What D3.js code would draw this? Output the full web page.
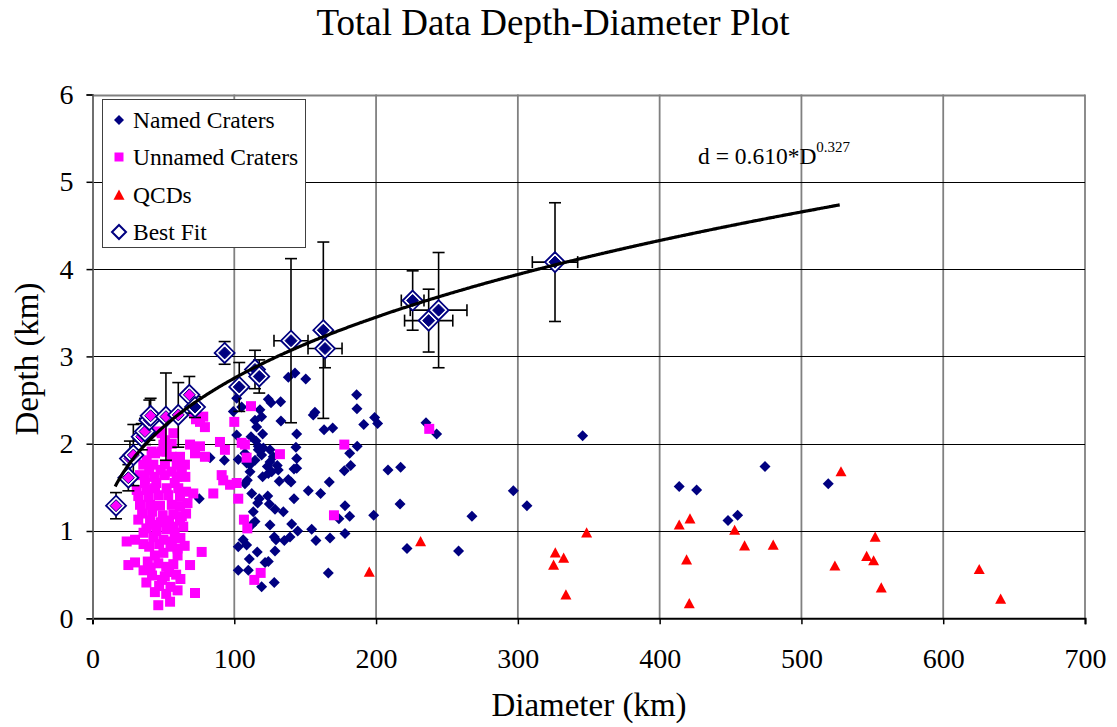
<!DOCTYPE html>
<html>
<head>
<meta charset="utf-8">
<script type="text/javascript" src="https://d3js.org/d3.v7.min.js"></script>
<style>
  body { margin: 0; background: #fff; }
  svg { font-family: "Liberation Serif", "Times New Roman", serif; }
</style>
</head>
<body>
<div id="scatter"></div>
<script type="text/javascript">
  const w = 1117
  const h = 727

  const xTicks = [0, 100, 200, 300, 400, 500, 600, 700]
  const yTicks = [0, 1, 2, 3, 4, 5, 6]

  // power-law fit shown on the chart
  const fitCoef = 0.610
  const fitExp = 0.327
  const fitStart = 16
  const fitEnd = 527

  // [diameter km, depth km]
  const namedCraters = [
    [75.3,1.37],[82.9,1.84],[93.0,1.81],[99.3,2.37],[101.7,2.52],[101.7,2.10],[102.8,1.82],
    [105.2,2.42],[107.5,1.89],[108.7,1.78],[111.8,2.08],[115.3,2.03],[116.9,1.97],[120.0,2.11],
    [114.6,2.27],[115.8,2.19],[118.1,2.39],[119.3,2.31],[124.0,2.51],[125.9,2.47],[132.7,2.48],
    [132.9,2.26],[138.1,2.76],[142.8,2.81],[150.4,2.74],[144.0,2.11],[155.7,2.33],[156.9,2.36],
    [163.3,2.16],[169.4,2.18],[186.3,2.56],[186.5,2.40],[199.0,2.30],[201.1,2.23],[191.3,2.22],
    [235.2,2.24],[242.7,2.11],[345.7,2.09],[186.7,1.97],[181.4,1.89],[182.1,1.75],[177.6,1.69],
    [208.4,1.70],[217.3,1.73],[178.1,1.29],[181.4,1.17],[173.8,1.14],[198.3,1.18],[216.9,1.31],
    [267.6,1.17],[296.8,1.46],[306.4,1.29],[178.1,0.97],[221.8,0.80],[258.2,0.77],[413.8,1.51],
    [426.1,1.47],[474.3,1.74],[448.2,1.12],[455.0,1.18],[518.9,1.54],
    [114.6,1.81],[119.3,1.87],[125.2,1.93],[116.9,1.93],[120.5,1.95],[127.5,1.85],[125.2,1.79],
    [123.3,1.74],[126.4,1.68],[124.0,1.66],[130.3,1.75],[131.0,1.70],[143.5,1.96],[144.0,1.83],
    [144.0,1.72],[142.1,1.71],[111.1,1.68],[109.2,1.58],[107.5,1.54],[111.1,1.76],[120.0,1.62],
    [131.7,1.57],[138.1,1.59],[140.0,1.56],[152.2,1.46],[160.9,1.43],[167.0,1.56],[112.3,1.43],
    [117.6,1.37],[116.5,1.32],[123.6,1.40],[124.7,1.31],[128.7,1.25],[134.6,1.22],[113.4,1.22],
    [142.1,1.37],[114.6,1.11],[112.3,1.07],[125.2,1.07],[140.5,1.08],[144.7,1.00],[154.6,1.02],
    [157.6,0.89],[167.5,0.92],[128.2,0.93],[129.4,0.90],[135.3,0.89],[139.3,0.93],[106.3,0.90],
    [102.8,0.82],[108.7,0.84],[116.2,0.76],[128.7,0.77],[110.6,0.68],[121.7,0.64],[124.0,0.65],
    [102.8,0.55],[109.9,0.55],[166.3,0.52],[119.3,0.36],[128.2,0.41]
  ]

  const unnamedCraters = [
    [111.8,2.43],[100.0,2.25],[105.2,2.01],[108.7,1.84],[132.2,1.88],[177.6,1.99],[237.5,2.17],
    [170.3,1.18],[89.9,2.02],[93.4,1.93],[91.1,1.64],[92.2,1.58],[97.0,1.53],[101.7,1.55],
    [85.2,1.43],[102.8,1.37],[106.8,1.13],[109.2,1.03],[118.6,0.52],[114.1,0.44],[77.0,0.76],
    [71.1,1.43],[68.8,0.61],[72.3,0.29],[107.5,1.99],
    [78.1,2.31],[79.3,2.19],[75.8,2.25],[73.0,2.28],[71.5,2.35],[55.9,2.00],[57.0,2.12],
    [68.8,1.99],[75.8,1.97],[79.3,1.85],[72.3,1.89],[48.8,2.12],[45.3,2.14],[50.0,1.99],[51.1,2.04],
    [41.7,1.91],[48.8,1.91],[55.9,1.85],[61.7,1.85],[38.2,1.81],[44.1,1.89],[52.3,1.91],
    [35.8,1.76],[42.9,1.76],[51.1,1.76],[59.4,1.76],[65.2,1.76],
    [40.0,1.70],[48.0,1.70],[56.0,1.68],[63.0,1.68],
    [33.5,1.64],[37.0,1.62],[44.0,1.62],[51.0,1.64],[59.4,1.62],[65.5,1.62],
    [37.0,1.55],[45.0,1.55],[58.0,1.55],
    [31.2,1.47],[38.2,1.47],[44.1,1.49],[52.3,1.49],[60.5,1.49],[66.0,1.45],
    [32.3,1.40],[39.4,1.39],[46.4,1.41],[53.4,1.41],[61.7,1.39],
    [33.5,1.30],[40.6,1.30],[47.6,1.29],[55.9,1.30],[61.7,1.28],[67.0,1.32],
    [35.0,1.20],[42.0,1.22],[49.5,1.18],[57.0,1.19],[63.0,1.17],[66.0,1.20],
    [32.3,1.13],[40.6,1.12],[48.0,1.10],[54.0,1.12],[61.7,1.12],
    [38.0,1.03],[45.0,1.00],[52.0,1.02],[58.0,0.98],[64.0,1.05],[42.0,1.07],[57.0,1.05],
    [36.0,0.98],[43.0,0.93],[50.0,0.90],[56.0,0.88],[62.0,0.92],
    [24.1,0.88],[30.0,0.90],[36.0,0.85],[40.0,0.82],[47.0,0.85],[55.0,0.82],[60.0,0.80],
    [60.0,0.72],[65.0,0.83],[44.0,0.72],[50.0,0.75],
    [25.3,0.61],[30.0,0.64],[46.4,0.63],[52.0,0.59],[54.0,0.53],[59.0,0.50],[39.0,0.65],
    [57.0,0.62],[41.0,0.58],[36.0,0.55],[51.0,0.48],
    [42.0,0.49],[49.0,0.44],[38.0,0.41],[47.0,0.37],[55.0,0.36],[62.0,0.45],[60.0,0.32],
    [52.0,0.28],[44.0,0.30],[46.4,0.15],[54.7,0.19]
  ]

  const qcds = [
    [195.2,0.53],[231.4,0.88],[348.5,0.98],[326.4,0.75],[332.3,0.69],[325.2,0.61],[333.9,0.27],
    [413.8,1.07],[421.4,1.14],[452.9,1.01],[459.9,0.83],[480.1,0.84],[419.0,0.67],[420.9,0.17],
    [527.9,1.68],[552.0,0.93],[546.0,0.71],[550.9,0.66],[523.6,0.60],[556.3,0.35],
    [625.4,0.56],[640.5,0.22]
  ]

  // best-fit points with error bars; source: which crater set the point came from
  const bestFitD =        [16.6, 25.3, 26.4, 28.8, 34.7, 37.0, 40.1, 41.0, 51.8, 60.5, 68.3, 72.3,
                           93.2, 103.5, 114.6, 117.6, 140.0, 162.8, 164.0, 225.8, 237.1, 244.1, 326.2]
  const bestFitDepth =    [1.29, 1.61, 1.83, 1.87, 2.08, 2.14, 2.27, 2.32, 2.31, 2.33, 2.56, 2.42,
                           3.04, 2.65, 2.85, 2.77, 3.18, 3.30, 3.09, 3.64, 3.41, 3.53, 4.08]
  const bestFitDepthErr = [0.15, 0.15, 0.20, 0.35, 0.15, 0.15, 0.23, 0.20, 0.50, 0.37, 0.21, 0.12,
                           0.13, 0.28, 0.22, 0.19, 0.94, 1.01, 0.22, 0.34, 0.36, 0.66, 0.68]
  const bestFitDiamErr =  [0, 1.5, 1.5, 2, 2, 2, 2, 2, 3, 3, 3, 3,
                           0, 3, 3, 3, 12, 3, 12, 8, 17, 20, 16]
  const bestFitSource =   ["unnamed","unnamed","unnamed","unnamed","unnamed","unnamed","unnamed","unnamed",
                           "unnamed","unnamed","unnamed","named",
                           "named","named","named","named","named","named","named","named","named","named","named"]

  const legendLabels = ["Named Craters", "Unnamed Craters", "QCDs", "Best Fit"]

  const NAVY = "#000080", PINK = "#ff00ff", RED = "#ff0000"

  const x_scale = d3.scaleLinear().domain([0, 700]).range([92.5, 1085])
  const y_scale = d3.scaleLinear().domain([0, 6]).range([618.3, 94.5])

  const diamond = r => `M0,${-r}L${r},0L0,${r}L${-r},0Z`
  const square = s => `M${-s/2},${-s/2}h${s}v${s}h${-s}Z`
  const triangle = r => `M0,${-r}L${r},${r*0.85}L${-r},${r*0.85}Z`

  const svg = d3.select("#scatter")
                .append("svg")
                .attr("width", w)
                .attr("height", h)
                .attr("viewBox", [0, 0, w, h])

  svg.append("rect").attr("width", w).attr("height", h).attr("fill", "#fff")

  // title
  svg.append("text")
    .attr("x", 553).attr("y", 35)
    .attr("text-anchor", "middle")
    .attr("font-size", "37px")
    .text("Total Data Depth-Diameter Plot")

  // grid lines
  const grid = svg.append("g")
  grid.selectAll("line.v")
    .data(xTicks.slice(1))
    .enter().append("line")
      .attr("x1", d => x_scale(d)).attr("x2", d => x_scale(d))
      .attr("y1", y_scale(6)).attr("y2", y_scale(0))
      .attr("stroke", "#808080").attr("stroke-width", 1.8)
  grid.selectAll("line.h")
    .data(yTicks.slice(1))
    .enter().append("line")
      .attr("x1", x_scale(0)).attr("x2", x_scale(700))
      .attr("y1", d => Math.round(y_scale(d)) + 0.5).attr("y2", d => Math.round(y_scale(d)) + 0.5)
      .attr("stroke", d => d === 6 ? "#808080" : "#000").attr("stroke-width", d => d === 6 ? 1.8 : 1)

  // axes
  const xAxis = g => g
    .attr("transform", `translate(0, ${y_scale(0)})`)
    .call(d3.axisBottom(x_scale).tickValues(xTicks).tickFormat(d3.format("d")).tickSize(6).tickPadding(24))
  const yAxis = g => g
    .attr("transform", `translate(${x_scale(0)}, 0)`)
    .call(d3.axisLeft(y_scale).tickValues(yTicks).tickFormat(d3.format("d")).tickSize(6).tickPadding(13))

  const gx = svg.append("g").call(xAxis)
  const gy = svg.append("g").call(yAxis)
  ;[gx, gy].forEach(g => {
    g.selectAll("text").attr("font-size", "28px").attr("fill", "#000")
      .attr("font-family", "Liberation Serif, Times New Roman, serif")
    g.selectAll("line").attr("stroke", "#000").attr("stroke-width", 1.5)
  })
  gx.select(".domain").attr("stroke", "#000").attr("stroke-width", 2)
  gy.select(".domain").attr("stroke", "#606060").attr("stroke-width", 1.8)

  svg.append("text")
    .attr("x", 589).attr("y", 716)
    .attr("text-anchor", "middle")
    .attr("font-size", "33px")
    .text("Diameter (km)")
  svg.append("text")
    .attr("transform", "translate(38, 359) rotate(-90)")
    .attr("text-anchor", "middle")
    .attr("font-size", "33px")
    .text("Depth (km)")

  // data series
  svg.append("g").selectAll("path")
    .data(namedCraters)
    .enter().append("path")
      .attr("transform", d => `translate(${x_scale(d[0])},${y_scale(d[1])})`)
      .attr("d", diamond(5.5))
      .attr("fill", NAVY)

  svg.append("g").selectAll("path")
    .data(unnamedCraters)
    .enter().append("path")
      .attr("transform", d => `translate(${x_scale(d[0])},${y_scale(d[1])})`)
      .attr("d", square(10))
      .attr("fill", PINK)

  svg.append("g").selectAll("path")
    .data(qcds)
    .enter().append("path")
      .attr("transform", d => `translate(${x_scale(d[0])},${y_scale(d[1])})`)
      .attr("d", triangle(5.5))
      .attr("fill", RED)

  // error bars
  const bars = svg.append("g").attr("stroke", "#000").attr("stroke-width", 1.6)
  bestFitD.forEach((D, i) => {
    const cx = x_scale(D), cy = y_scale(bestFitDepth[i])
    const yTop = y_scale(bestFitDepth[i] + bestFitDepthErr[i])
    const yBot = y_scale(bestFitDepth[i] - bestFitDepthErr[i])
    bars.append("line").attr("x1", cx).attr("x2", cx).attr("y1", yTop).attr("y2", yBot)
    bars.append("line").attr("x1", cx - 6).attr("x2", cx + 6).attr("y1", yTop).attr("y2", yTop)
    bars.append("line").attr("x1", cx - 6).attr("x2", cx + 6).attr("y1", yBot).attr("y2", yBot)
    if (bestFitDiamErr[i] > 0) {
      const xl = x_scale(D - bestFitDiamErr[i]), xr = x_scale(D + bestFitDiamErr[i])
      bars.append("line").attr("x1", xl).attr("x2", xr).attr("y1", cy).attr("y2", cy)
      bars.append("line").attr("x1", xl).attr("x2", xl).attr("y1", cy - 6).attr("y2", cy + 6)
      bars.append("line").attr("x1", xr).attr("x2", xr).attr("y1", cy - 6).attr("y2", cy + 6)
    }
  })

  // best-fit markers
  const bf = svg.append("g").selectAll("g")
    .data(bestFitD.map((D, i) => ({D: D, depth: bestFitDepth[i], src: bestFitSource[i]})))
    .enter().append("g")
      .attr("transform", d => `translate(${x_scale(d.D)},${y_scale(d.depth)})`)
  bf.append("path").attr("d", diamond(10))
    .attr("fill", "#fff").attr("stroke", NAVY).attr("stroke-width", 1.8)
  bf.append("path").attr("d", diamond(6))
    .attr("fill", d => d.src === "named" ? NAVY : PINK)
    .attr("stroke", NAVY).attr("stroke-width", 1)

  // fitted curve
  const fitPts = d3.range(fitStart, fitEnd + 1, 1).map(D => [D, fitCoef * Math.pow(D, fitExp)])
  svg.append("path")
    .datum(fitPts)
    .attr("fill", "none")
    .attr("stroke", "#000")
    .attr("stroke-width", 3.2)
    .attr("d", d3.line().x(d => x_scale(d[0])).y(d => y_scale(d[1])).curve(d3.curveMonotoneX))

  // equation label
  const eq = svg.append("text").attr("x", 698).attr("y", 164).attr("font-size", "23.5px")
  eq.append("tspan").text("d = 0.610*D")
  eq.append("tspan").attr("dy", -12).attr("font-size", "15px").text("0.327")

  // legend
  const legend = svg.append("g")
  legend.append("rect")
    .attr("x", 102.5).attr("y", 99.5).attr("width", 203).attr("height", 148)
    .attr("fill", "#fff").attr("stroke", "#404040").attr("stroke-width", 1)
  const ly = [120, 157, 195, 232]
  legend.selectAll("text")
    .data(legendLabels)
    .enter().append("text")
      .attr("x", 133)
      .attr("y", (d, i) => ly[i] + 8)
      .attr("font-size", "23.5px")
      .text(d => d)
  legend.append("path").attr("transform", `translate(119,${ly[0]})`).attr("d", diamond(5)).attr("fill", NAVY)
  legend.append("path").attr("transform", `translate(119,${ly[1]})`).attr("d", square(9)).attr("fill", PINK)
  legend.append("path").attr("transform", `translate(119,${ly[2]})`).attr("d", triangle(5.5)).attr("fill", RED)
  legend.append("path").attr("transform", `translate(119,${ly[3]})`).attr("d", diamond(7))
    .attr("fill", "#fff").attr("stroke", NAVY).attr("stroke-width", 2)
</script>
</body>
</html>
